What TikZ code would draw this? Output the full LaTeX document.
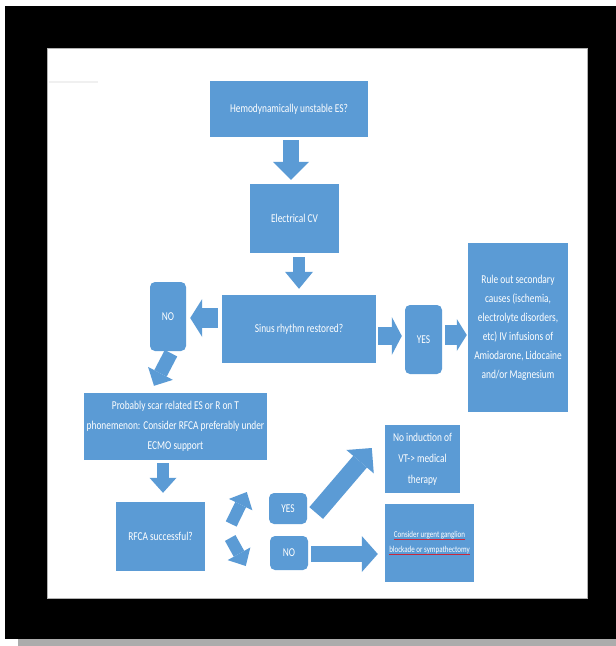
\documentclass[tikz,border=0pt]{standalone}
\usepackage{fontspec}
\setmainfont{Carlito}[FakeStretch=0.78]
\usetikzlibrary{arrows.meta,calc}
\definecolor{boxblue}{RGB}{91,155,213}
\definecolor{spellred}{RGB}{200,40,60}
\newcommand\spellul[1]{\setbox0\hbox{#1}\rlap{\color{spellred}\rule[-2.2pt]{\wd0}{0.7pt}}\box0}
\begin{document}
\begin{tikzpicture}[x=1pt,y=-1pt,
  box/.style={fill=boxblue, draw=none, text=white, align=center, inner sep=0pt,
    font=\fontsize{12}{15}\selectfont},
  rbox/.style={box, rounded corners=5pt},
  barrow/.style n args={3}{draw=boxblue, line width=#1,
    -{Triangle[width=#2, length=#3, line width=0pt]}}]
\useasboundingbox (0,0) rectangle (616,646);
% frame
\fill[white] (0,0) rectangle (616,646);
\fill[gray!65] (18,639) rectangle (616,646);
\fill[black] (5,6) rectangle (616,639);
\filldraw[fill=white, draw=gray!60, line width=0.6pt] (47,48) rectangle (587,598);
\draw[gray!12, line width=1.5pt] (49,82) -- (98,82);
% boxes
\node[box, minimum width=158pt, minimum height=56pt] (hemo) at (289,109) {Hemodynamically unstable ES?};
\node[box, minimum width=89pt, minimum height=69pt] (cv) at (294.5,218.5) {Electrical CV};
\node[box, minimum width=154pt, minimum height=68pt] (sinus) at (299,329) {Sinus rhythm restored?};
\node[rbox, minimum width=36pt, minimum height=69pt] (no1) at (168,316.5) {NO};
\node[rbox, minimum width=37pt, minimum height=69pt] (yes1) at (423.5,339.5) {YES};
\node[box, minimum width=100pt, minimum height=169pt, font=\fontsize{12}{19}\selectfont] (rule) at (518,327.5)
  {Rule out secondary\\causes (ischemia,\\electrolyte disorders,\\etc) IV infusions of\\Amiodarone, Lidocaine\\and/or Magnesium};
\node[box, minimum width=183pt, minimum height=67pt, font=\fontsize{12}{20}\selectfont] (prob) at (175.5,426.5)
  {Probably scar related ES or R on T\\phonemenon: Consider RFCA preferably under\\ECMO support};
\node[box, minimum width=89pt, minimum height=69pt] (rfca) at (160.5,536.5) {RFCA successful?};
\node[rbox, minimum width=38pt, minimum height=31pt] (yes2) at (288,508.5) {YES};
\node[rbox, minimum width=38pt, minimum height=34pt] (no2) at (289,553) {NO};
\node[box, minimum width=75pt, minimum height=68pt, font=\fontsize{12}{21}\selectfont] (noind) at (422.5,459)
  {No induction of\\VT-> medical\\therapy};
\node[box, minimum width=89pt, minimum height=78pt, font=\fontsize{9}{15}\selectfont] (cons) at (429.5,543)
  {\spellul{Consider urgent ganglion}\\\spellul{blockade or sympathectomy}};
% block arrows
\draw[barrow={16pt}{36pt}{18pt}] ($(hemo.south)+(2,3)$) -- ($(cv.north)+(-3.5,-4)$);
\draw[barrow={12pt}{28pt}{17pt}] ($(cv.south)+(4.5,4)$) -- ($(sinus.north)+(0,-6)$);
\draw[barrow={20pt}{38pt}{12pt}] ($(sinus.west)+(-4,-11)$) -- ($(no1.east)+(4,1.5)$);
\draw[barrow={18pt}{38pt}{10pt}] ($(sinus.east)+(2,7)$) -- ($(yes1.west)+(-3,-3.5)$);
\draw[barrow={20pt}{32pt}{10pt}] ($(yes1.east)+(3,-4.5)$) -- ($(rule.west)+(-1,7.5)$);
\draw[barrow={14pt}{28pt}{14pt}] ($(no1.south)+(3,2)$) -- ($(prob.north)+(-21.5,-7)$);
\draw[barrow={12pt}{27pt}{15pt}] ($(prob.south)+(-12.5,3)$) -- ($(rfca.north)+(2.5,-9)$);
\draw[barrow={12pt}{26pt}{14pt}] ($(rfca.east)+(26,-12.5)$) -- ($(yes2.west)+(-22,-16.5)$);
\draw[barrow={12pt}{26pt}{14pt}] ($(rfca.east)+(25,1.5)$) -- ($(no2.west)+(-24,13)$);
\draw[barrow={18pt}{36pt}{18pt}] ($(yes2.east)+(9,4.5)$) -- ($(noind.west)+(-13,-11)$);
\draw[barrow={16pt}{36pt}{16pt}] ($(no2.east)+(3,1)$) -- ($(cons.west)+(-7,11)$);
\end{tikzpicture}
\end{document}
